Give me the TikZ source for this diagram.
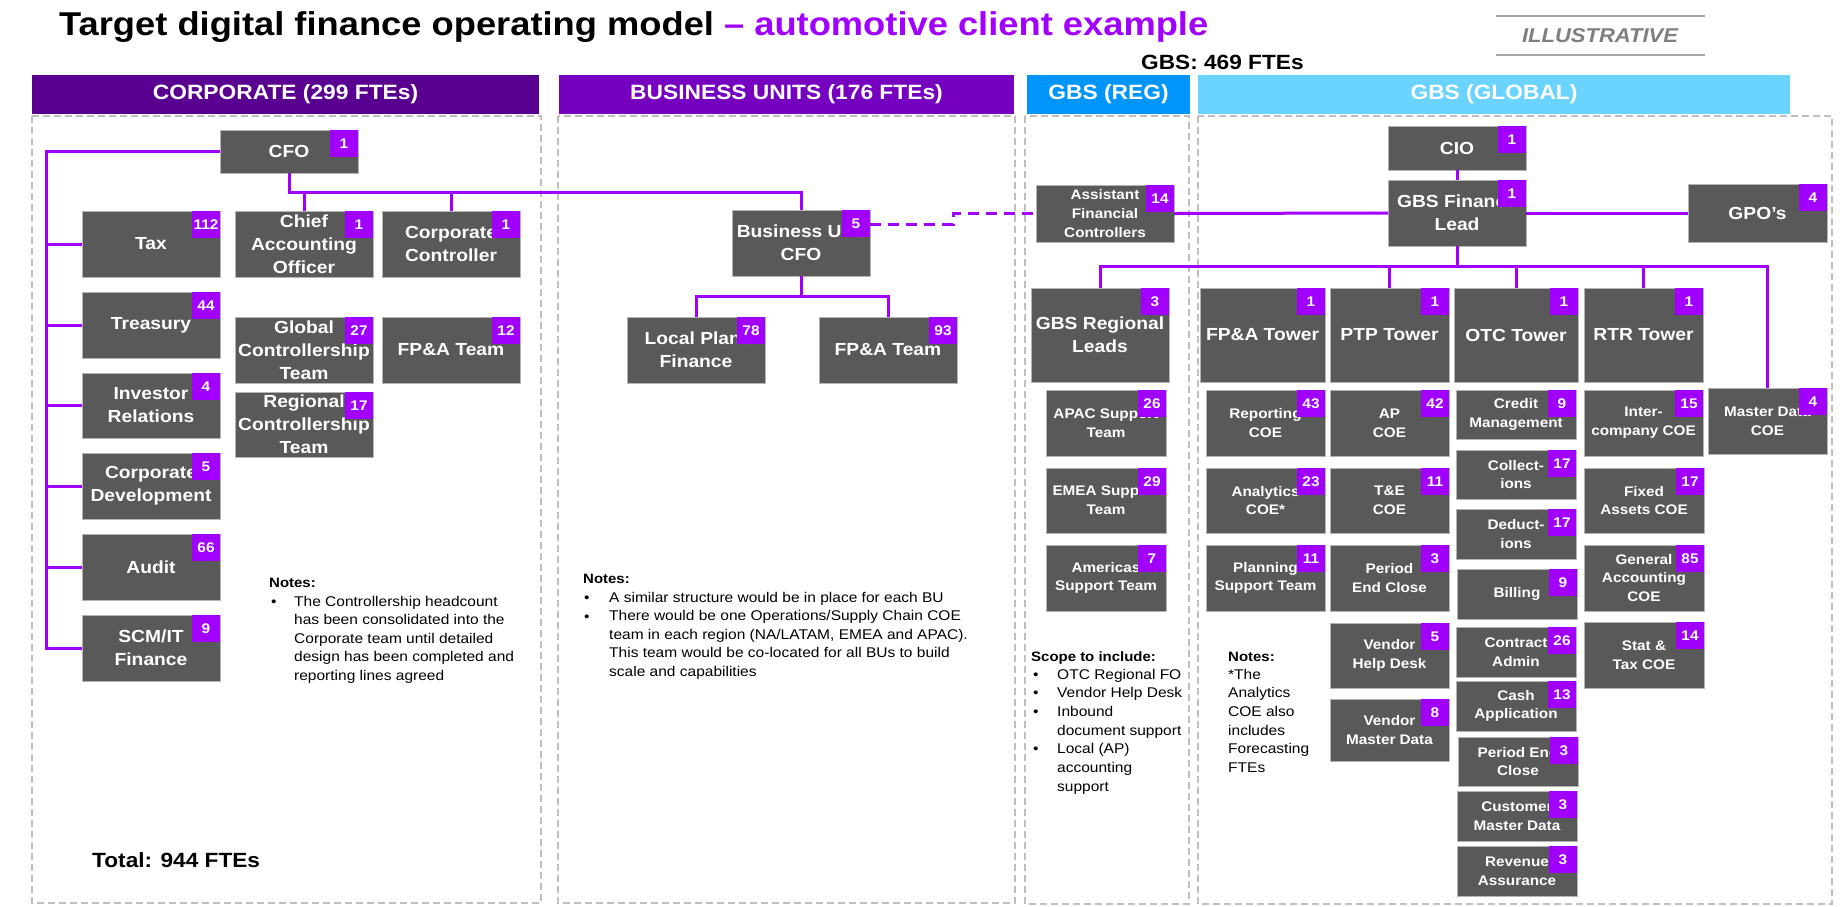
\documentclass[tikz,border=0pt]{standalone}
\usepackage{fontspec}
\setmainfont{Liberation Sans}[FakeStretch=1.1]
\usetikzlibrary{calc}
\definecolor{accpurple}{HTML}{A100FF}
\definecolor{corpc}{HTML}{5A0090}
\definecolor{buc}{HTML}{7500C0}
\definecolor{regc}{HTML}{0095FA}
\definecolor{globc}{HTML}{6AD3FF}
\definecolor{boxgray}{HTML}{595959}
\definecolor{boxedge}{HTML}{B4B4B4}
\definecolor{framegray}{HTML}{BFBFBF}
\definecolor{illgray}{HTML}{7F7F7F}
\definecolor{illline}{HTML}{A6A6A6}
\newcommand\bx[8][]{%
  \node[obox,#1,minimum width={(#5-#3)*1pt},minimum height={(#6-#4)*1pt}] (#2) at ({(#3+#5)/2},{(#4+#6)/2}) {#7};
  \node[badge] (#2b) at (#2.north east) {#8};
}
\begin{document}
\begin{tikzpicture}[x=1pt,y=-1pt,
  obox/.style={draw=boxedge, line width=1pt, fill=boxgray, text=white, font=\fontsize{17.5}{23}\selectfont\bfseries, align=center, inner sep=0pt, outer sep=0pt},
  sbox/.style={font=\fontsize{13.9}{18.7}\selectfont\bfseries},
  badge/.style={fill=accpurple, text=white, font=\fontsize{14}{16}\selectfont\bfseries, minimum width=28pt, minimum height=27pt, inner sep=0pt, outer sep=0pt, anchor=north east},
  conn/.style={draw=accpurple, line width=3pt},
  dconn/.style={conn, dash pattern=on 11pt off 7pt},
  secframe/.style={draw=framegray, line width=1.5pt, dash pattern=on 7pt off 4pt},
  hdr/.style={text=white, font=\fontsize{20.7}{24}\selectfont\bfseries, minimum height=39pt, inner sep=0pt, outer sep=0pt},
  note/.style={font=\fontsize{14.1}{18.5}\selectfont, inner sep=0pt, text=black, anchor=base west},
  noteh/.style={note, font=\fontsize{13.6}{18.5}\selectfont\bfseries},
]
\fill[white] (0,0) rectangle (1847,906);
\useasboundingbox (0,0) rectangle (1847,906);

% title
\node[anchor=base west, inner sep=0pt] (title) at (59,35) {\fontsize{33}{40}\selectfont\bfseries Target digital finance operating model \textcolor{accpurple}{– automotive client example}};
\draw[illline, line width=2pt] (1496,16) -- (1705,16);
\draw[illline, line width=2pt] (1496,55) -- (1705,55);
\node[text=illgray, font=\fontsize{20}{24}\selectfont\bfseries\itshape, inner sep=0pt] (illus) at (1600,36) {ILLUSTRATIVE};
\node[anchor=base west, inner sep=0pt, font=\fontsize{20.6}{24}\selectfont\bfseries] (gbstot) at (1141,69) {GBS: 469 FTEs};

% section frames
\draw[secframe] (32,116) rectangle (541,903);
\draw[secframe] (558,116) rectangle (1015,903);
\draw[secframe] (1025,116) rectangle (1189,904);
\draw[secframe] (1198,116) rectangle (1832,904);

% headers
\node[hdr, fill=corpc, minimum width=507pt] (hcorp) at (285.5,94.5) {CORPORATE (299 FTEs)};
\node[hdr, fill=buc, minimum width=455pt] (hbu) at (786.5,94.5) {BUSINESS UNITS (176 FTEs)};
\node[hdr, fill=regc, minimum width=163pt] (hreg) at (1108.5,94.5) {GBS (REG)};
\node[hdr, fill=globc, minimum width=592pt] (hglob) at (1494,94.5) {GBS (GLOBAL)};

% corporate boxes
\bx{cfo}{220}{130}{358}{173}{CFO}{1}
\bx{tax}{82}{211}{220}{277}{Tax}{112}
\bx{cao}{235}{211}{373}{277}{Chief\\Accounting\\Officer}{1}
\bx{cc}{382}{211}{520}{277}{Corporate\\Controller}{1}
\bx{trs}{82}{292}{220}{358}{Treasury}{44}
\bx{gct}{235}{317}{373}{383}{Global\\Controllership\\Team}{27}
\bx{cfpa}{382}{317}{520}{383}{FP\&A Team}{12}
\bx{ir}{82}{373}{220}{438}{Investor\\Relations}{4}
\bx{rct}{235}{392}{373}{457}{Regional\\Controllership\\Team}{17}
\bx{cd}{82}{453}{220}{519}{Corporate\\Development}{5}
\bx{aud}{82}{534}{220}{600}{Audit}{66}
\bx{scm}{82}{615}{220}{681}{SCM/IT\\Finance}{9}

% business unit boxes
\bx{bucfo}{732}{210}{870}{276}{Business Unit\\CFO}{5}
\bx{lpf}{627}{317}{765}{383}{Local Plant\\Finance}{78}
\bx{bufpa}{819}{317}{957}{383}{FP\&A Team}{93}

% GBS regional
\bx[sbox]{afc}{1036}{185}{1174}{242}{Assistant\\Financial\\Controllers}{14}
\bx{grl}{1031}{288}{1169}{382}{GBS Regional\\Leads}{3}
\bx[sbox]{apac}{1046}{390}{1166}{456}{APAC Support\\Team}{26}
\bx[sbox]{emea}{1046}{468}{1166}{533}{EMEA Support\\Team}{29}
\bx[sbox]{amer}{1046}{545}{1166}{611}{Americas\\Support Team}{7}

% GBS global
\bx{cio}{1388}{126}{1526}{170}{CIO}{1}
\bx{gfl}{1388}{180}{1526}{246}{GBS Finance\\Lead}{1}
\bx{gpo}{1688}{184}{1827}{242}{GPO’s}{4}
\bx{fpat}{1200}{288}{1325}{382}{FP\&A Tower}{1}
\bx{ptpt}{1330}{288}{1449}{382}{PTP Tower}{1}
\bx{otct}{1454}{288}{1578}{382}{OTC Tower}{1}
\bx{rtrt}{1584}{288}{1703}{382}{RTR Tower}{1}

\bx[sbox]{rep}{1206}{390}{1325}{456}{Reporting\\COE}{43}
\bx[sbox]{ana}{1206}{468}{1325}{533}{Analytics\\COE*}{23}
\bx[sbox]{pln}{1206}{545}{1325}{611}{Planning\\Support Team}{11}

\bx[sbox]{ap}{1330}{390}{1449}{456}{AP\\COE}{42}
\bx[sbox]{te}{1330}{468}{1449}{533}{T\&E\\COE}{11}
\bx[sbox]{pec}{1330}{545}{1449}{611}{Period\\End Close}{3}
\bx[sbox]{vhd}{1330}{623}{1449}{688}{Vendor\\Help Desk}{5}
\bx[sbox]{vmd}{1330}{699}{1449}{761}{Vendor\\Master Data}{8}

\bx[sbox]{crm}{1456}{390}{1576}{439}{Credit\\Management}{9}
\bx[sbox]{col}{1456}{450}{1576}{499}{Collect-\\ions}{17}
\bx[sbox]{ded}{1456}{509}{1576}{559}{Deduct-\\ions}{17}
\bx[sbox]{bil}{1457}{569}{1577}{619}{Billing}{9}
\bx[sbox]{con}{1456}{627}{1576}{677}{Contract\\Admin}{26}
\bx[sbox]{cash}{1456}{681}{1576}{731}{Cash\\Application}{13}
\bx[sbox]{ope}{1458}{737}{1578}{786}{Period End\\Close}{3}
\bx[sbox]{cmd}{1457}{791}{1577}{841}{Customer\\Master Data}{3}
\bx[sbox]{rev}{1457}{846}{1577}{896}{Revenue\\Assurance}{3}

\bx[sbox]{ic}{1584}{390}{1703}{456}{Inter-\\company COE}{15}
\bx[sbox]{fa}{1584}{468}{1704}{533}{Fixed\\Assets COE}{17}
\bx[sbox]{ga}{1584}{545}{1704}{611}{General\\Accounting\\COE}{85}
\bx[sbox]{stc}{1584}{622}{1704}{688}{Stat \&\\Tax COE}{14}
\bx[sbox]{mdc}{1708}{388}{1827}{454}{Master Data\\COE}{4}

% connectors: corporate
\coordinate (spine) at (46,0);
\draw[conn] (cfo.west) -- (cfo.west -| spine) |- (scm.west);
\foreach \n in {tax,trs,ir,cd,aud} \draw[conn] (\n.west -| spine) -- (\n.west);
\coordinate (cbar) at (0,192);
\draw[conn] (cfo.south) -- (cfo.south |- cbar) -| (bucfo.north);
\draw[conn] (cao.north |- cbar) -- (cao.north);
\draw[conn] (cc.north |- cbar) -- (cc.north);
% BU
\coordinate (bbar) at (0,296);
\draw[conn] (bucfo.south) -- (bucfo.south |- bbar);
\draw[conn] (lpf.north) -- (lpf.north |- bbar) -- (bufpa.north |- bbar) -- (bufpa.north);
\draw[dconn] ($(bucfo.north east)+(0,14)$) -- ++(83,0) |- (afc.west);
% GBS
\draw[conn] (afc.east) -- (gfl.west);
\draw[conn] (cio.south) -- (gfl.north);
\draw[conn] (gfl.east) -- (gpo.west);
\coordinate (gbar) at (0,266);
\draw[conn] (gfl.south) -- (gfl.south |- gbar);
\draw[conn] (grl.north) |- (mdc.north |- gbar) -- (mdc.north);
\foreach \n in {ptpt,otct,rtrt} \draw[conn] (\n.north |- gbar) -- (\n.north);

% corporate notes
\node[noteh] (cnh) at (269,587) {Notes:};
\node[note] (cnb1) at (271,606) {•};
\foreach \t [count=\i] in {The Controllership headcount, has been consolidated into the, Corporate team until detailed, design has been completed and, reporting lines agreed}
  \node[note] (cn\i) at (294,{606+18.5*(\i-1)}) {\t};
\node[anchor=base west, inner sep=0pt, font=\fontsize{20.6}{24}\selectfont\bfseries] (total) at (92,867) {Total: 944 FTEs};

% BU notes
\node[noteh] (bnh) at (583,583) {Notes:};
\node[note] (bnb1) at (584,602) {•};
\node[note] (bnb2) at (584,621) {•};
\foreach \t [count=\i] in {A similar structure would be in place for each BU, There would be one Operations/Supply Chain COE, {team in each region (NA/LATAM, EMEA and APAC).}, This team would be co-located for all BUs to build, scale and capabilities}
  \node[note] (bn\i) at (609,{602+18.5*(\i-1)}) {\t};

% scope notes
\node[noteh] (snh) at (1031,661) {Scope to include:};
\foreach \t [count=\i] in {OTC Regional FO, Vendor Help Desk, Inbound, document support, Local (AP), accounting, support}
  \node[note] (sn\i) at (1057,{679+18.7*(\i-1)}) {\t};
\foreach \k in {1,2,3,5}
  \node[note] (snb\k) at (1033,{679+18.7*(\k-1)}) {•};

% GBS notes
\node[noteh] (gnh) at (1228,661) {Notes:};
\foreach \t [count=\i] in {*The, Analytics, COE also, includes, Forecasting, FTEs}
  \node[note] (gn\i) at (1228,{679+18.7*(\i-1)}) {\t};
\end{tikzpicture}
\end{document}
